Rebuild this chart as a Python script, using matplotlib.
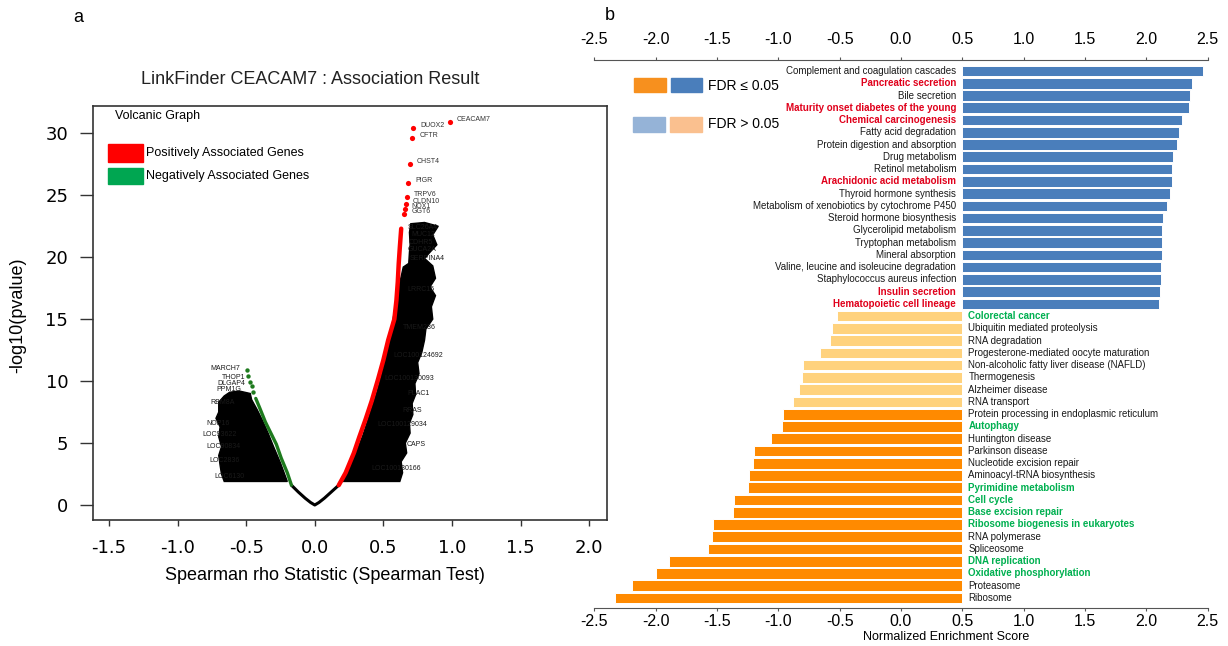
import numpy as np
import matplotlib.pyplot as plt
from matplotlib.patches import Rectangle

plt.rcParams['font.family'] = ['Liberation Sans', 'DejaVu Sans']

W, H = 1228, 646

# ---- panel a: volcano curve (rho, -log10 p) ----
neu_rho = [-0.17, -0.12, -0.07, -0.03, 0.0, 0.03, 0.07, 0.12, 0.175]
neu_logp = [1.6, 1.05, 0.55, 0.2, 0.0, 0.2, 0.55, 1.05, 1.6]

pos_rho = [0.175, 0.225, 0.285, 0.325, 0.37, 0.415, 0.46, 0.50, 0.535, 0.58, 0.595, 0.605, 0.612,
           0.62, 0.63]
pos_logp = [1.6, 2.6, 4.2, 5.5, 6.9, 8.4, 10.1, 11.7, 13.3, 15.0, 16.5, 18.0, 19.5, 20.8, 22.3]

neg_rho = [-0.17, -0.20, -0.245, -0.28, -0.32, -0.36, -0.40, -0.43]
neg_logp = [1.6, 2.6, 3.8, 4.9, 5.8, 6.7, 7.8, 8.6]
neg_top_rho = [-0.448, -0.46, -0.472, -0.485, -0.496]
neg_top_logp = [9.15, 9.6, 9.95, 10.4, 10.9]

top_genes = ['CEACAM7', 'DUOX2', 'CFTR', 'CHST4', 'PIGR', 'TRPV6', 'CLDN10', 'NOX1', 'GGT6']
top_rho = [0.985, 0.718, 0.711, 0.694, 0.682, 0.670, 0.662, 0.657, 0.652]
top_logp = [30.9, 30.4, 29.6, 27.5, 26.0, 24.85, 24.3, 23.9, 23.5]

# outline of the mass of overlapping gene labels
right_blob_rho = [0.20, 0.25, 0.30, 0.35, 0.40, 0.45, 0.49, 0.525, 0.555, 0.58, 0.60, 0.625,
                  0.645, 0.685, 0.69, 0.695, 0.69, 0.70, 0.80, 0.90, 0.86, 0.89, 0.84, 0.80,
                  0.86, 0.88, 0.84, 0.88, 0.85, 0.86, 0.81, 0.80, 0.78, 0.75, 0.76, 0.73,
                  0.735, 0.71, 0.715, 0.69, 0.695, 0.66, 0.67, 0.63, 0.64, 0.62]
right_blob_logp = [1.9, 2.9, 4.2, 5.6, 7.3, 9.0, 10.6, 12.3, 14.0, 15.6, 17.0, 18.2,
                   19.2, 19.5, 20.4, 21.0, 22.0, 22.7, 22.8, 22.5, 21.8, 21.0, 20.4, 19.9,
                   19.3, 18.3, 17.6, 16.9, 16.0, 15.0, 14.2, 13.3, 12.3, 11.5, 10.6, 9.8,
                   8.9, 8.2, 7.3, 6.6, 5.8, 5.0, 4.2, 3.5, 2.6, 1.9]
left_blob_rho = [-0.20, -0.25, -0.30, -0.34, -0.38, -0.42, -0.46, -0.47, -0.55, -0.62, -0.66,
                 -0.70, -0.70, -0.72, -0.69, -0.70, -0.68, -0.70, -0.69, -0.68, -0.66]
left_blob_logp = [1.9, 3.4, 4.7, 5.8, 6.8, 7.7, 8.5, 9.0, 9.2, 9.1, 8.8,
                  8.3, 7.5, 7.0, 6.3, 5.5, 4.7, 4.0, 3.2, 2.5, 1.9]

# labels sticking out of the mass (right side: label end, left side: label start)
right_lab = ['SLC26A4', 'MUC12', 'CDHR5', 'GUCA2A', 'LRRC15', 'TMEM236', 'LOC100124692',
             'LOC100130093', 'PLAC1', 'RRAS', 'LOC100129034', 'CAPS', 'LOC100130166']
right_lab_rho = [0.90, 0.88, 0.86, 0.89, 0.87, 0.88, 0.935, 0.87, 0.84, 0.78, 0.82, 0.81, 0.776]
right_lab_logp = [22.4, 21.8, 21.2, 20.6, 17.4, 14.3, 12.1, 10.2, 9.0, 7.6, 6.5, 4.85, 2.96]
left_lab = ['SERPINA4', 'MARCH7', 'THOP1', 'DLGAP4', 'PPM1G', 'RBM8A', 'NOP16', 'LOC93622',
            'LOC90834', 'LOC2836', 'LOC6130']
left_lab_rho = [0.695, -0.76, -0.68, -0.71, -0.72, -0.76, -0.79, -0.82, -0.79, -0.77, -0.73]
left_lab_logp = [19.9, 11.0, 10.3, 9.8, 9.35, 8.3, 6.6, 5.65, 4.7, 3.6, 2.3]

# ---- panel b: GSEA KEGG pathways, bar ends read on the printed axis ----
pathways = [
    'Complement and coagulation cascades', 'Pancreatic secretion', 'Bile secretion',
    'Maturity onset diabetes of the young', 'Chemical carcinogenesis', 'Fatty acid degradation',
    'Protein digestion and absorption', 'Drug metabolism', 'Retinol metabolism',
    'Arachidonic acid metabolism', 'Thyroid hormone synthesis',
    'Metabolism of xenobiotics by cytochrome P450', 'Steroid hormone biosynthesis',
    'Glycerolipid metabolism', 'Tryptophan metabolism', 'Mineral absorption',
    'Valine, leucine and isoleucine degradation', 'Staphylococcus aureus infection',
    'Insulin secretion', 'Hematopoietic cell lineage',
    'Colorectal cancer', 'Ubiquitin mediated proteolysis', 'RNA degradation',
    'Progesterone-mediated oocyte maturation', 'Non-alcoholic fatty liver disease (NAFLD)',
    'Thermogenesis', 'Alzheimer disease', 'RNA transport',
    'Protein processing in endoplasmic reticulum', 'Autophagy', 'Huntington disease',
    'Parkinson disease', 'Nucleotide excision repair', 'Aminoacyl-tRNA biosynthesis',
    'Pyrimidine metabolism', 'Cell cycle', 'Base excision repair',
    'Ribosome biogenesis in eukaryotes', 'RNA polymerase', 'Spliceosome', 'DNA replication',
    'Oxidative phosphorylation', 'Proteasome', 'Ribosome']
nes_end = [2.46, 2.37, 2.36, 2.35, 2.29, 2.27, 2.25, 2.22, 2.21, 2.21, 2.19, 2.17, 2.14, 2.13,
           2.13, 2.13, 2.12, 2.12, 2.11, 2.10,
           -0.52, -0.56, -0.58, -0.66, -0.80, -0.81, -0.83, -0.88, -0.96, -0.97, -1.06, -1.20,
           -1.21, -1.24, -1.25, -1.36, -1.37, -1.53, -1.54, -1.57, -1.89, -2.00, -2.19, -2.33]
fdr_sig = [True] * 20 + [False] * 8 + [True] * 16
highlight = {'Pancreatic secretion': 'up', 'Maturity onset diabetes of the young': 'up',
             'Chemical carcinogenesis': 'up', 'Arachidonic acid metabolism': 'up',
             'Insulin secretion': 'up', 'Hematopoietic cell lineage': 'up',
             'Colorectal cancer': 'down', 'Autophagy': 'down', 'Pyrimidine metabolism': 'down',
             'Cell cycle': 'down', 'Base excision repair': 'down',
             'Ribosome biogenesis in eukaryotes': 'down', 'DNA replication': 'down',
             'Oxidative phosphorylation': 'down'}
baseline = 0.5
nes_ticks = np.arange(-2.5, 2.51, 0.5)

BLUE, ORANGE, LORANGE = '#4A7EBB', '#FF8A00', '#FFD27D'
LEG_ORANGE, LEG_LBLUE, LEG_LORANGE = '#F7901E', '#95B3D7', '#FAC08F'


def fx(px):
    return px / W


def fy(py):
    return 1 - py / H


fig = plt.figure(figsize=(W / 100, H / 100), dpi=100)

# ================= panel a =================
axa = fig.add_axes([fx(92.5), fy(520), (607 - 92.5) / W, (520 - 106) / H])
axa.set_xlim(-1.62, 2.13)
axa.set_ylim(-1.21, 32.2)

axa.fill(right_blob_rho, right_blob_logp, color='black', lw=1.0, zorder=2)
axa.fill(left_blob_rho, left_blob_logp, color='black', lw=1.0, zorder=2)

for g, x, y in zip(right_lab, right_lab_rho, right_lab_logp):
    axa.text(x, y, g, ha='right', va='center', fontsize=5, color='#1A1A1A', zorder=3)
for g, x, y in zip(left_lab, left_lab_rho, left_lab_logp):
    axa.text(x, y, g, ha='left', va='center', fontsize=5, color='#1A1A1A', zorder=3)

axa.plot(neu_rho, neu_logp, color='black', lw=2.2, solid_capstyle='round', zorder=4)
axa.plot(pos_rho, pos_logp, color='#FF0000', lw=3.2, solid_capstyle='round', zorder=4)
axa.plot(neg_rho, neg_logp, color='#1E7A1E', lw=2.4, solid_capstyle='round', zorder=4)
axa.scatter(neg_top_rho, neg_top_logp, s=10, color='#1E7A1E', lw=0, zorder=4)
axa.scatter(top_rho, top_logp, s=14, color='#FF0000', lw=0, zorder=4)
for g, x, y in zip(top_genes, top_rho, top_logp):
    axa.annotate(g, (x, y), xytext=(5, 2), textcoords='offset points', fontsize=5,
                 color='#333333', va='center')

xt = np.arange(-1.5, 2.01, 0.5)
axa.set_xticks(xt)
axa.set_xticklabels([f'{v:.1f}' for v in xt])
axa.set_yticks(np.arange(0, 31, 5))
for lab in axa.get_xticklabels() + axa.get_yticklabels():
    lab.set_fontfamily('DejaVu Sans')
axa.tick_params(axis='x', length=4.5, width=1, pad=9, labelsize=13, color='#333333')
axa.tick_params(axis='y', length=9.5, width=1, pad=8, labelsize=13, color='#333333')
for sp in axa.spines.values():
    sp.set_linewidth(1.2)
    sp.set_color('#333333')

fig.text(fx(78), fy(18), 'a', fontsize=13, ha='center', va='center')
fig.text(fx(310), fy(79), 'LinkFinder CEACAM7 : Association Result', fontsize=13,
         ha='center', va='center', color='#222222')
fig.text(fx(325), fy(575), 'Spearman rho Statistic (Spearman Test)', fontsize=13,
         ha='center', va='center')
fig.text(fx(18), fy(315), '-log10(pvalue)', fontsize=13, rotation=90, ha='center', va='center')
fig.text(fx(115), fy(116), 'Volcanic Graph', fontsize=9, ha='left', va='center')
fig.patches.append(Rectangle((fx(108), fy(162)), 35 / W, 18 / H, transform=fig.transFigure,
                             color='#FF0000', figure=fig))
fig.patches.append(Rectangle((fx(108), fy(184)), 35 / W, 16 / H, transform=fig.transFigure,
                             color='#00A651', figure=fig))
fig.text(fx(146), fy(153), 'Positively Associated Genes', fontsize=9, ha='left', va='center')
fig.text(fx(146), fy(176), 'Negatively Associated Genes', fontsize=9, ha='left', va='center')

# ================= panel b =================
axb = fig.add_axes([fx(594.3), fy(608.3), (1207.6 - 594.3) / W, (608.3 - 60) / H])
axb.set_facecolor('none')
ypos = np.arange(len(pathways))
ends = np.array(nes_end)
bar_colors = []
for e, s in zip(nes_end, fdr_sig):
    if e > baseline:
        bar_colors.append(BLUE if s else LEG_LBLUE)
    else:
        bar_colors.append(ORANGE if s else LORANGE)
axb.barh(ypos, ends - baseline, left=baseline, height=0.87, color=bar_colors,
         edgecolor='white', linewidth=0.7)
axb.set_xlim(-2.5, 2.5)
axb.set_ylim(len(pathways) - 1 + 0.84, -0.9)

for y, name, e in zip(ypos, pathways, nes_end):
    tag = highlight.get(name, '')
    col = {'up': '#E0001B', 'down': '#00B050'}.get(tag, '#1A1A1A')
    wt = 'bold' if tag else 'normal'
    if e > baseline:
        axb.text(baseline - 0.05, y, name, ha='right', va='center', fontsize=7, color=col,
                 fontweight=wt)
    else:
        axb.text(baseline + 0.05, y, name, ha='left', va='center', fontsize=7, color=col,
                 fontweight=wt)

tick_txt = [f'{v:.1f}' for v in nes_ticks]
axb.set_xticks(nes_ticks)
axb.set_xticklabels(tick_txt)
axb.set_yticks([])
axb.tick_params(axis='x', length=2.5, width=0.8, labelsize=11.5, color='#555555', pad=1.5)
top = axb.secondary_xaxis('top')
top.set_xticks(nes_ticks)
top.set_xticklabels(tick_txt)
top.tick_params(axis='x', length=2.5, width=0.8, labelsize=11.5, color='#555555', pad=7)
top.spines['top'].set_color('#555555')
for side in ('left', 'right', 'top'):
    axb.spines[side].set_visible(False)
axb.spines['bottom'].set_color('#555555')

fig.text(fx(946), fy(637), 'Normalized Enrichment Score', fontsize=9, ha='center', va='center')
fig.text(fx(610), fy(15), 'b', fontsize=13, ha='center', va='center')

legend_boxes = [(634, 77.7, LEG_ORANGE), (670.7, 77.7, BLUE),
                (633, 117.3, LEG_LBLUE), (670, 117.3, LEG_LORANGE)]
for x0, y0, c in legend_boxes:
    fig.patches.append(Rectangle((fx(x0), fy(y0 + 14.5)), 31.5 / W, 14.5 / H,
                                 transform=fig.transFigure, color=c, figure=fig))
fig.text(fx(708), fy(86), 'FDR ≤ 0.05', fontsize=10, ha='left', va='center')
fig.text(fx(708), fy(124), 'FDR > 0.05', fontsize=10, ha='left', va='center')

fig.savefig('out.png', dpi=100)
